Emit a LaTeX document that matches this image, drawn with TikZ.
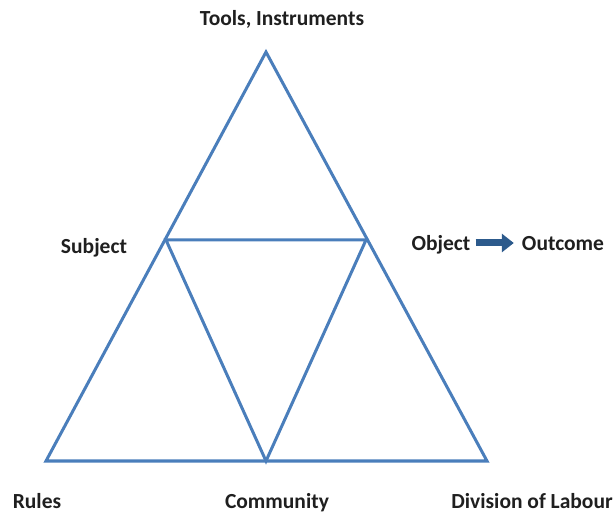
\documentclass[tikz,border=0pt]{standalone}
\usepackage{fontspec}
\setmainfont{Carlito}
\usetikzlibrary{arrows.meta,positioning}
\definecolor{edgeblue}{HTML}{4A7EBB}
\definecolor{flowblue}{HTML}{2C5A8C}
\tikzset{
  every picture/.style = {
    x=1pt, y=-1pt
  },
  edge/.style={
    draw=edgeblue,
    line width=3pt,
    line join=miter
  },
  label/.style={
    font=\fontsize{21.5}{24}\selectfont\bfseries,
    text=black!88,
    text height=14pt,
    text depth=4pt,
    inner sep=1pt
  },
  flow/.style={
    draw=flowblue,
    line width=7pt,
    shorten <=4pt,
    shorten >=7pt,
    -{Triangle[length=12pt,width=18pt]}
  }
}
\begin{document}
\begin{tikzpicture}
        \useasboundingbox (0,0) rectangle (614,513);

        % corners and mid points of the big triangle
        \coordinate (top) at (266,52);
        \coordinate (bl) at (46,461);
        \coordinate (br) at (487,461);
        \coordinate (ml) at (166,240);
        \coordinate (mr) at (366,240);
        \coordinate (mb) at (266,461);

        \draw[edge] (top) -- (br) -- (bl) -- cycle;
        \draw[edge] (ml) -- (mr) -- (mb) -- cycle;

        \node[label] (tools) at (282,21) {Tools, Instruments};
        \node[label] (subject) at (94,249) {Subject};
        \node[label] (object) at (441,246) {Object};
        \node[label] (outcome) at (563,246) {Outcome};
        \node[label] (rules) at (37,503) {Rules};
        \node[label] (community) at (277,503) {Community};
        \node[label] (labour) at (532,503) {Division of Labour};

        \draw[flow] ([yshift=3pt]object.east) -- ([yshift=3pt]outcome.west);
\end{tikzpicture}
\end{document}
